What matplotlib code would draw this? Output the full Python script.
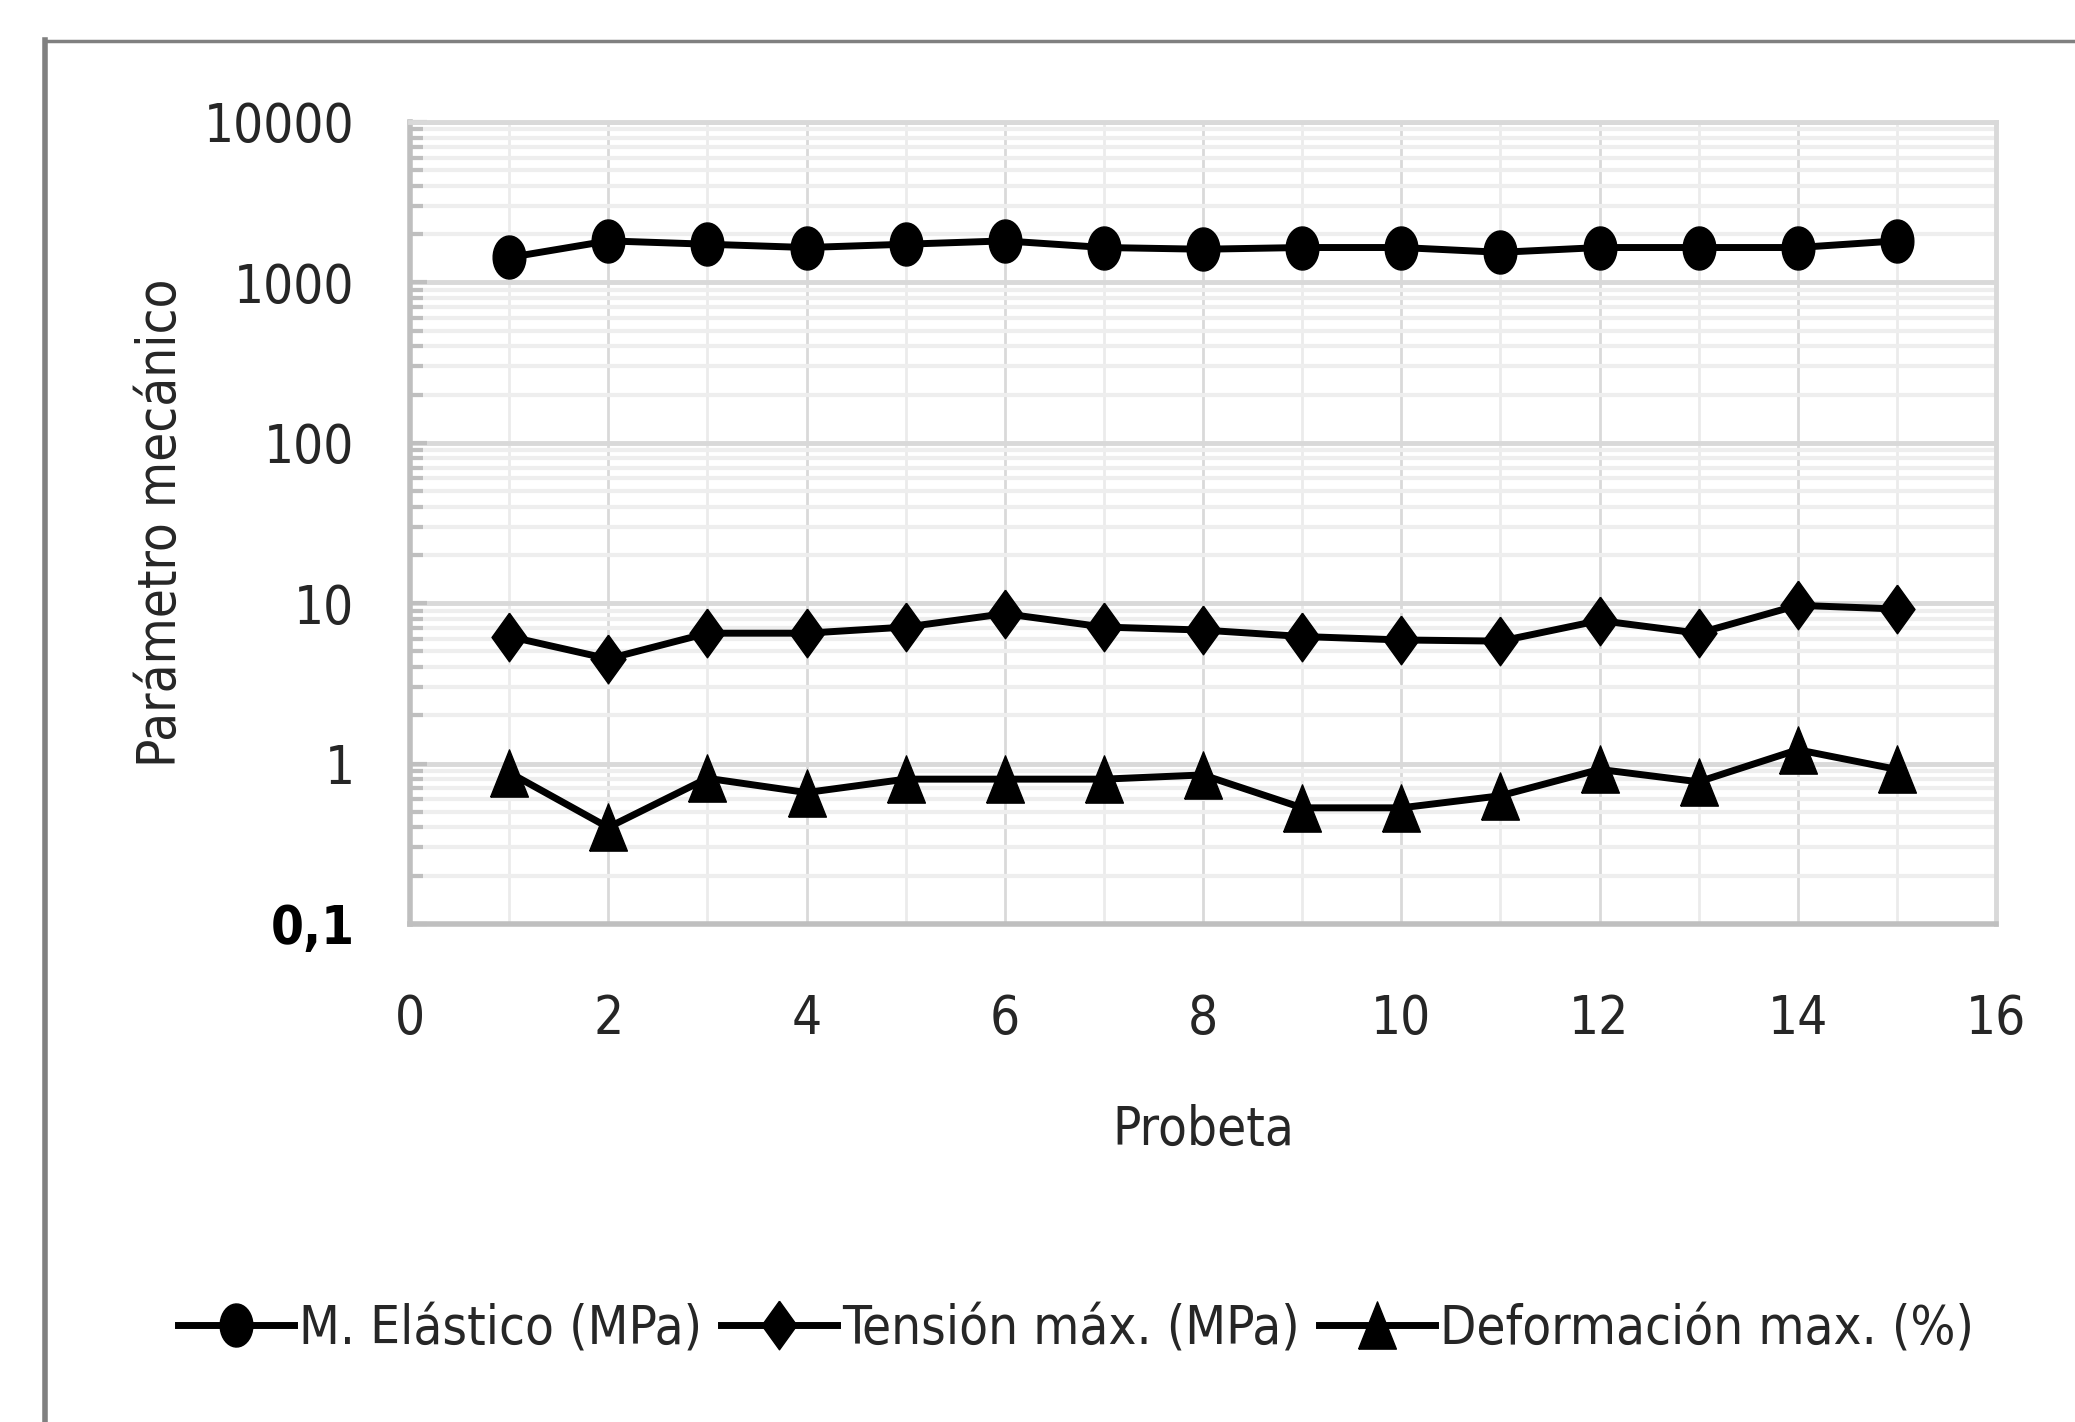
import numpy as np
import matplotlib
matplotlib.use('Agg')
import matplotlib.pyplot as plt
import matplotlib.font_manager as fm
from matplotlib.ticker import NullFormatter, LogLocator

# data
probeta = list(range(1, 16))
modulo = [1430, 1815, 1730, 1650, 1730, 1815, 1650, 1610, 1650, 1650, 1540, 1650, 1650, 1650, 1815]
tension = [6.2, 4.5, 6.5, 6.5, 7.1, 8.6, 7.1, 6.8, 6.2, 5.9, 5.8, 7.8, 6.5, 9.7, 9.2]
deformacion = [0.88, 0.40, 0.81, 0.66, 0.80, 0.80, 0.80, 0.85, 0.53, 0.53, 0.63, 0.92, 0.77, 1.22, 0.92]
labels = ['M. Elástico (MPa)', 'Tensión máx. (MPa)', 'Deformación max. (%)']
yticks = [0.1, 1, 10, 100, 1000, 10000]
yticklabels = ['0,1', '1', '10', '100', '1000', '10000']
xticks = [0, 2, 4, 6, 8, 10, 12, 14, 16]

# pick a narrow font if one is around
names = {f.name for f in fm.fontManager.ttflist}
dv_cond = any(f.name == 'DejaVu Sans' and 'condensed' in str(f.stretch) for f in fm.fontManager.ttflist)
if 'Liberation Sans Narrow' in names:
    plt.rcParams['font.family'] = ['Liberation Sans Narrow', 'DejaVu Sans']
    fs = 42
elif dv_cond:
    plt.rcParams['font.family'] = ['DejaVu Sans']
    plt.rcParams['font.stretch'] = 'condensed'
    fs = 38
else:
    plt.rcParams['font.family'] = ['DejaVu Sans']
    fs = 34

txt = '#262626'

# stretched marker shapes like the original
t = np.linspace(0, 2 * np.pi, 40)
ell = list(zip(0.38 * np.cos(t), 0.5 * np.sin(t)))
dia = [(0, 0.5), (0.36, 0), (0, -0.5), (-0.36, 0), (0, 0.5)]
tri = [(-0.4, -0.5), (0.4, -0.5), (0, 0.5), (-0.4, -0.5)]

fig = plt.figure(figsize=(20.75, 14.22), dpi=100)
ax = fig.add_axes([410 / 2075, 1 - 924 / 1422, 1586 / 2075, 802 / 1422])

ax.plot(probeta, modulo, color='black', lw=5, marker=ell, markersize=31, label=labels[0])
ax.plot(probeta, tension, color='black', lw=5, marker=dia, markersize=35, label=labels[1])
ax.plot(probeta, deformacion, color='black', lw=5, marker=tri, markersize=34, label=labels[2])

ax.set_yscale('log')
ax.set_ylim(0.1, 10000)
ax.set_xlim(0, 16)
ax.set_xticks(xticks)
ax.set_xticks(range(1, 16), minor=True)
ax.set_yticks(yticks)
ax.set_yticklabels(yticklabels)
ax.yaxis.set_minor_locator(LogLocator(base=10, subs=np.arange(2, 10)))
ax.yaxis.set_minor_formatter(NullFormatter())

ax.grid(True, which='major', axis='y', color='#d9d9d9', lw=3.5)
ax.grid(True, which='minor', axis='y', color='#eeeeee', lw=3)
ax.grid(True, which='major', axis='x', color='#d9d9d9', lw=2)
ax.grid(True, which='minor', axis='x', color='#ebebeb', lw=2)
ax.set_axisbelow(True)

for s in ['left', 'bottom']:
    ax.spines[s].set_color('#bfbfbf')
    ax.spines[s].set_linewidth(4)
for s in ['top', 'right']:
    ax.spines[s].set_color('#d9d9d9')
    ax.spines[s].set_linewidth(3.5)

ax.tick_params(axis='x', which='both', length=0, pad=50, labelsize=fs, labelcolor=txt)
ax.tick_params(axis='y', which='major', direction='in', length=12, width=3, color='#bfbfbf',
               pad=40, labelsize=fs, labelcolor=txt)
ax.tick_params(axis='y', which='minor', direction='in', length=9, width=3, color='#bfbfbf')
lab0 = ax.get_yticklabels()[0]
lab0.set_fontweight('bold')
lab0.set_color('black')

ax.set_xlabel('Probeta', fontsize=fs, color=txt, labelpad=42)
ax.set_ylabel('Parámetro mecánico', fontsize=fs, color=txt, labelpad=12)

leg = fig.legend(loc='center', bbox_to_anchor=(1076 / 2075, 1 - 1328 / 1422), ncol=3, frameon=False,
                 fontsize=fs, handlelength=2.2, handletextpad=0.1, columnspacing=0.35,
                 labelcolor=txt)

# outer chart frame
fig.add_artist(plt.Line2D([45 / 2075, 45 / 2075], [0, 1 - 40 / 1422], transform=fig.transFigure,
                          color='#808080', lw=4))
fig.add_artist(plt.Line2D([45 / 2075, 1], [1 - 41 / 1422, 1 - 41 / 1422], transform=fig.transFigure,
                          color='#808080', lw=2.5))

fig.savefig('out.png', dpi=100)
